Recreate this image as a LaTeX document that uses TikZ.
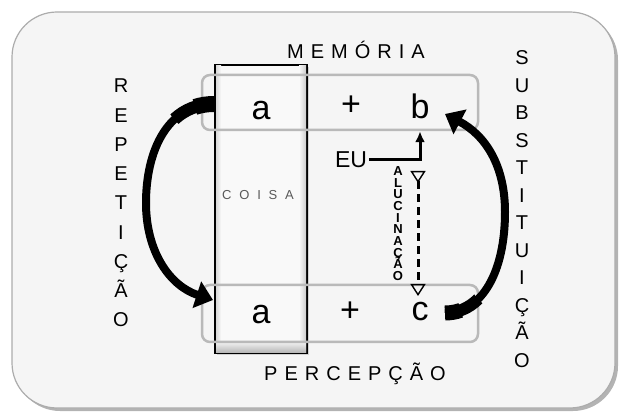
\documentclass[tikz,border=0pt]{standalone}
\usepackage{fontspec}
\setmainfont{Liberation Sans}
\usetikzlibrary{arrows.meta,shadows}
\setlength{\lineskiplimit}{-20pt}

\tikzset{
  frame/.style={draw=gray!65, line width=1.2pt, fill=gray!8, rounded corners=45pt,
    drop shadow={shadow xshift=3pt, shadow yshift=-3pt, opacity=.6}},
  rowbox/.style={draw=gray!55, line width=2.5pt, rounded corners=8pt, minimum width=276pt},
  coisabox/.style={draw=black, line width=1.3pt, minimum width=92pt, minimum height=288pt,
    fill=gray!5, drop shadow={shadow xshift=2pt, shadow yshift=-2pt, opacity=.3}},
  term/.style={font=\fontsize{34}{40}\selectfont, inner sep=0pt},
  spaced/.style={font=\fontsize{20}{24}\selectfont\addfontfeatures{LetterSpace=35}},
  vword/.style={align=center, inner sep=0pt},
  bigarrow/.style={line width=8pt, -{Triangle[length=17pt,width=27pt]}},
}

\begin{document}
\begin{tikzpicture}[x=1pt,y=-1pt]
\useasboundingbox (0,0) rectangle (619,414);
\draw[frame] (12,12) rectangle (615,408);

% coisa column and the two rows
\node[coisabox] (coisa) at (261,209) {};
\shade[left color=gray!30, right color=gray!5] (216,66) rectangle (221,352);
\shade[left color=gray!5, right color=gray!40] (299,66) rectangle (306,352);
\shade[top color=gray!15, bottom color=gray!55] (216,343) rectangle (306,352);
\node[font=\fontsize{13}{15}\selectfont\addfontfeatures{LetterSpace=60}, text=black!65] (coisatxt) at (258,195) {COISA};
\node[rowbox, minimum height=55pt] (mem) at (340,102.5) {};
\node[rowbox, minimum height=57pt] (perc) at (340,313.5) {};

\node[term] (a1) at (261,111) {a};
\node[term] (p1) at (351,106) {+};
\node[term] (b) at (420,106) {b};
\node[term] (a2) at (261,315) {a};
\node[term] (p2) at (350,312) {+};
\node[term] (c) at (420,312) {c};

\node[spaced] (memoria) at (356,50) {MEMÓRIA};
\node[spaced] (percepcao) at (355,374) {PERCEPÇÃO};

\node[vword, font=\fontsize{20}{29.25}\selectfont] (rep) at (121,203) {R\\E\\P\\E\\T\\I\\Ç\\Ã\\O};
\node[vword, font=\fontsize{20}{27.5}\selectfont] (sub) at (522,209) {S\\U\\B\\S\\T\\I\\T\\U\\I\\Ç\\Ã\\O};
\node[vword, font=\fontsize{13}{11.67}\selectfont\bfseries] (alu) at (398,223.5) {A\\L\\U\\C\\I\\N\\A\\Ç\\Ã\\O};

% eu
\node[font=\fontsize{23}{27}\selectfont, inner sep=2pt] (eu) at (351,160) {EU};
\draw[line width=3pt, -{Latex[length=11pt,width=10pt]}] (eu.east) -| (b |- mem.south);
\coordinate (halstart) at (418,171);
\coordinate (halend) at (418,296);
\draw[line width=3pt, dash pattern=on 8pt off 5pt,
  {Triangle[open,reversed,length=12pt,width=15pt,line width=1.4pt]}-{Triangle[open,length=12pt,width=15pt,line width=1.4pt]}]
  (halstart) -- (halend);

% curved arrows
\coordinate (reptail) at (coisa.west |- 0,104);
\coordinate (rephead) at (213,300);
\draw[bigarrow] (reptail) .. controls (168,104) and (146,150) .. (146,203)
  .. controls (146,252) and (170,286) .. (rephead);
\draw[line width=12.5pt] (reptail) .. controls (197.9,104) and (184.7,109.6) .. (174.4,119.2);
\draw[line width=16pt] (reptail) .. controls (207.1,104) and (200.7,105) .. (194.9,107);
\coordinate (subtail) at (445,313);
\coordinate (subhead) at (445,114);
\draw[bigarrow] (subtail) .. controls (482,313) and (505,272) .. (505,212)
  .. controls (505,165) and (485,135) .. (subhead);
\draw[line width=12pt] (subtail) .. controls (457.95,313) and (469.2,308) .. (478.3,298.9);
\draw[line width=15pt] (subtail) .. controls (450.55,313) and (455.8,312.1) .. (460.7,310.3);
\end{tikzpicture}
\end{document}
